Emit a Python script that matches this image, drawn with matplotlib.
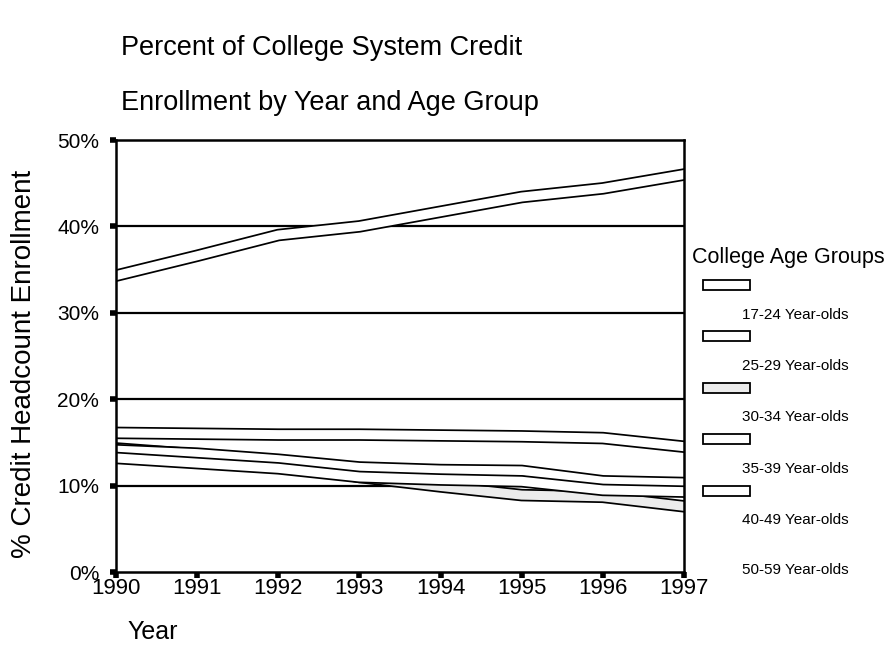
import matplotlib
matplotlib.use("Agg")
import matplotlib.pyplot as plt
import matplotlib.patheffects as pe
from matplotlib.patches import Rectangle

plt.rcParams['font.family'] = ['Liberation Sans', 'DejaVu Sans']

years = [1990, 1991, 1992, 1993, 1994, 1995, 1996, 1997]
groups = ['17-24 Year-olds', '25-29 Year-olds', '30-34 Year-olds',
          '35-39 Year-olds', '40-49 Year-olds', '50-59 Year-olds']

# percent of headcount
pct_17_24 = [34.3, 36.6, 39.0, 40.0, 41.7, 43.4, 44.4, 46.0]
pct_25_29 = [16.1, 16.0, 15.9, 15.9, 15.8, 15.7, 15.5, 14.5]
pct_30_34 = [14.3, 13.6, 12.7, 11.0, 9.9, 8.9, 8.7, 7.6]
pct_35_39 = [14.1, 13.7, 13.0, 12.1, 11.8, 11.7, 10.5, 10.3]
pct_40_49 = [13.2, 12.6, 12.0, 11.0, 10.7, 10.5, 9.5, 9.3]

series = [pct_17_24, pct_25_29, pct_30_34, pct_35_39, pct_40_49]
fills = ['white', 'white', '#ececec', 'white', 'white']

fig = plt.figure(figsize=(8.91, 6.71), dpi=100)
ax = fig.add_axes([116 / 891, 1 - 572 / 671, 568 / 891, 432 / 671])

# gridlines
for g in [10, 20, 30, 40]:
    ax.axhline(g, color='black', lw=1.6, zorder=1)

# wide white lines with black outline, like the old excel chart
for vals, fc in zip(series, fills):
    ax.plot(years, vals, color=fc, lw=6.5, solid_joinstyle='round', zorder=2,
            path_effects=[pe.Stroke(linewidth=9, foreground='black'), pe.Normal()])

ax.set_xlim(1990, 1997)
ax.set_ylim(0, 50)
ax.set_xticks(years)
ax.set_yticks([0, 10, 20, 30, 40, 50])
ax.set_yticklabels(['%d%%' % v for v in [0, 10, 20, 30, 40, 50]])
ax.tick_params(direction='out', length=4, width=4, labelsize=15, pad=8)
ax.tick_params(axis='x', labelsize=16, pad=0)
for s in ax.spines.values():
    s.set_linewidth(1.8)

fig.text(121 / 891, 1 - 48 / 671, 'Percent of College System Credit',
         fontsize=19.5, va='center', ha='left')
fig.text(121 / 891, 1 - 103 / 671, 'Enrollment by Year and Age Group',
         fontsize=19.5, va='center', ha='left')
fig.text(24 / 891, 1 - 364 / 671, '% Credit Headcount Enrollment',
         fontsize=20, rotation=90, va='center', ha='center')
fig.text(127 / 891, 1 - 632 / 671, 'Year', fontsize=18, va='center', ha='left')

# legend drawn by hand: swatch above, label below to the right
fig.text(692 / 891, 1 - 258 / 671, 'College Age Groups', fontsize=15.5,
         va='center', ha='left')
swatch_y = [285, 336, 388, 439, 491]
label_y = [315, 366, 417, 469, 520, 570]
for i, fc in enumerate(fills):
    fig.patches.append(Rectangle((703 / 891, 1 - (swatch_y[i] + 5) / 671),
                                 47 / 891, 10 / 671, transform=fig.transFigure,
                                 facecolor=fc, edgecolor='black', lw=1.3))
for i, name in enumerate(groups):
    fig.text(742 / 891, 1 - label_y[i] / 671, name, fontsize=11,
             va='center', ha='left')

fig.savefig('out.png', dpi=100)
